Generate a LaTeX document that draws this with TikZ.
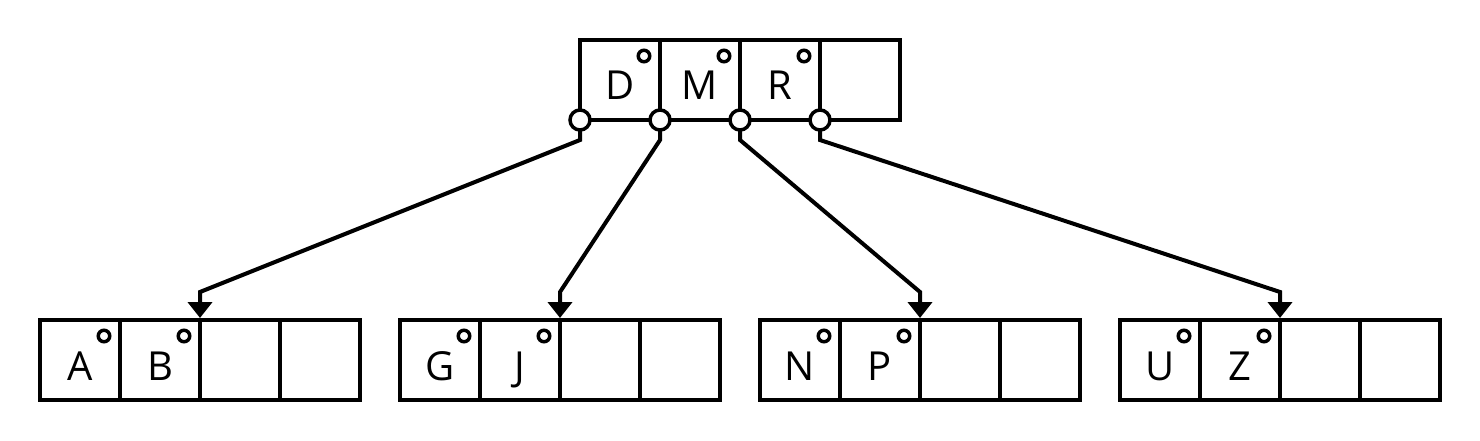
\documentclass[tikz,border=0pt]{standalone}
\usepackage{fontspec}
\setmainfont{Open Sans}
\usetikzlibrary{arrows.meta}
\tikzset{
  cell/.style={draw, line width=4pt, minimum width=80pt, minimum height=80pt,
    inner sep=0pt, outer sep=0pt, text height=40pt, text depth=0pt,
    font=\fontsize{40}{40}\selectfont, anchor=south west},
  dot/.style={circle, draw, fill=white, line width=3.5pt, minimum size=11.5pt, inner sep=0pt, outer sep=0pt},
  port/.style={circle, draw, fill=white, line width=3.5pt, minimum size=20pt, inner sep=0pt, outer sep=0pt},
  conn/.style={line width=4pt, -{Triangle[width=24pt,length=16pt]}}
}
\begin{document}
\begin{tikzpicture}[x=1pt,y=1pt]
\useasboundingbox (0,0) rectangle (1480,440);
% top node
\node[cell] (t1) at (580,320) {D};
\node[cell] (t2) at (660,320) {M};
\node[cell] (t3) at (740,320) {R};
\node[cell] (t4) at (820,320) {};
\foreach \n in {t1,t2,t3} \node[dot] (\n d) at ([xshift=-16pt,yshift=-16pt]\n.north east) {};
% bottom nodes
\node[cell] (a1) at (40,40) {A};
\node[cell] (a2) at (120,40) {B};
\node[cell] (a3) at (200,40) {};
\node[cell] (a4) at (280,40) {};
\node[cell] (b1) at (400,40) {G};
\node[cell] (b2) at (480,40) {J};
\node[cell] (b3) at (560,40) {};
\node[cell] (b4) at (640,40) {};
\node[cell] (c1) at (760,40) {N};
\node[cell] (c2) at (840,40) {P};
\node[cell] (c3) at (920,40) {};
\node[cell] (c4) at (1000,40) {};
\node[cell] (d1) at (1120,40) {U};
\node[cell] (d2) at (1200,40) {Z};
\node[cell] (d3) at (1280,40) {};
\node[cell] (d4) at (1360,40) {};
\foreach \n in {a1,a2,b1,b2,c1,c2,d1,d2} \node[dot] (\n d) at ([xshift=-16pt,yshift=-16pt]\n.north east) {};
% ports
\node[port] (p1) at (t1.south west) {};
\node[port] (p2) at (t2.south west) {};
\node[port] (p3) at (t3.south west) {};
\node[port] (p4) at (t4.south west) {};
% connectors
\draw[conn] (p1.south) -- ++(0,-10) -- ([yshift=28pt]a2.north east) -- ([yshift=2pt]a2.north east);
\draw[conn] (p2.south) -- ++(0,-10) -- ([yshift=28pt]b2.north east) -- ([yshift=2pt]b2.north east);
\draw[conn] (p3.south) -- ++(0,-10) -- ([yshift=28pt]c2.north east) -- ([yshift=2pt]c2.north east);
\draw[conn] (p4.south) -- ++(0,-10) -- ([yshift=28pt]d2.north east) -- ([yshift=2pt]d2.north east);
\end{tikzpicture}
\end{document}
